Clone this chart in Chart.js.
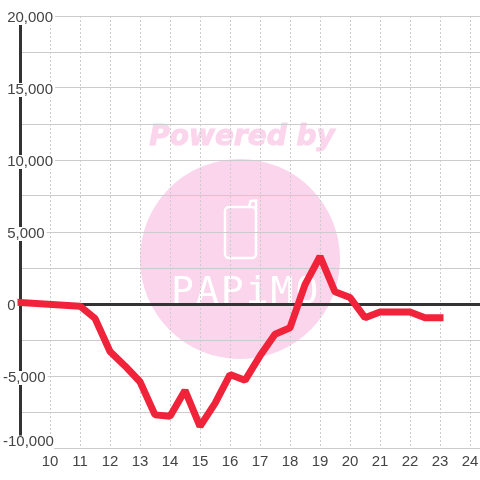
<!DOCTYPE html>
<html>
<head>
<meta charset="utf-8">
<script src="https://cdn.jsdelivr.net/npm/chart.js@4"></script>
<style>
  html, body { margin: 0; padding: 0; background: #fff; }
  #wrap { width: 480px; height: 480px; }
</style>
</head>
<body>
<div id="wrap"><canvas id="chart"></canvas></div>
<script>
const hours = [9, 11, 11.5, 12, 12.5, 13, 13.5, 14, 14.5, 15, 15.5, 16, 16.5, 17, 17.5, 18, 18.5, 19, 19.5, 20, 20.5, 21, 21.5, 22, 22.5, 23];
const balance = [100, -150, -1000, -3300, -4300, -5400, -7700, -7800, -6000, -8500, -6900, -4900, -5300, -3600, -2100, -1650, 1350, 3300, 850, 450, -950, -550, -550, -550, -950, -950];

const yMin = -10000;
const yMax = 20000;
const xMin = 9;
const xMax = 24.333;
const labelFont = { family: '"Liberation Sans"', size: 15, lineHeight: 1 };

// pink logo sits behind the grid
const watermark = {
  id: 'watermark',
  beforeDraw(chart) {
    const ctx = chart.ctx;
    ctx.save();
    ctx.fillStyle = '#fbd5ec';
    ctx.strokeStyle = '#fbd5ec';
    ctx.beginPath();
    ctx.arc(240, 259, 100, 0, Math.PI * 2);
    ctx.fill();

    ctx.font = 'italic bold 28px "DejaVu Sans"';
    ctx.textAlign = 'center';
    ctx.textBaseline = 'alphabetic';
    ctx.lineWidth = 1;
    ctx.fillText('Powered by', 242, 145);
    ctx.strokeText('Powered by', 242, 145);

    ctx.strokeStyle = '#fff';
    ctx.lineWidth = 2.5;
    ctx.beginPath();
    ctx.roundRect(225, 207, 31, 51, 4);
    ctx.moveTo(249, 207);
    ctx.lineTo(250.5, 201);
    ctx.lineTo(256, 200.5);
    ctx.lineTo(256, 212);
    ctx.stroke();

    ctx.fillStyle = '#fff';
    ctx.font = '38px "DejaVu Sans Mono"';
    ctx.textAlign = 'left';
    ctx.letterSpacing = '2px';
    ctx.fillText('PAPiMO', 171, 303);
    ctx.restore();
  }
};

// the bottom y label sits above its gridline, ticks can't do that one by one
const bottomLabel = {
  id: 'bottomLabel',
  afterDraw(chart) {
    const ctx = chart.ctx;
    const y = chart.scales.y.getPixelForValue(yMin) - 6.5;
    ctx.save();
    ctx.fillStyle = '#fff';
    ctx.fillRect(2, y - 6, 52, 14);
    ctx.fillStyle = '#444';
    ctx.font = '15px "Liberation Sans"';
    ctx.textAlign = 'left';
    ctx.textBaseline = 'middle';
    ctx.fillText(yMin.toLocaleString('en-US'), 3, y);
    ctx.restore();
  }
};

new Chart(document.getElementById('chart'), {
  type: 'line',
  data: {
    datasets: [{
      data: hours.map((h, i) => ({ x: h, y: balance[i] })),
      borderColor: '#f0233a',
      borderWidth: 7,
      borderCapStyle: 'square',
      borderJoinStyle: 'bevel',
      pointRadius: 0,
      tension: 0,
      clip: false
    }]
  },
  plugins: [watermark, bottomLabel],
  options: {
    responsive: true,
    maintainAspectRatio: false,
    animation: false,
    layout: { padding: { left: 0, top: 16, right: 0, bottom: 0 } },
    plugins: { legend: { display: false }, tooltip: { enabled: false } },
    scales: {
      x: {
        type: 'linear',
        min: xMin,
        max: xMax,
        afterFit: s => {
          s.height = 32;
          s.paddingLeft = 0;
          s.paddingRight = 0;
        },
        border: { display: false, dash: [2, 2] },
        grid: { color: '#ccc', lineWidth: 1, drawTicks: false },
        ticks: {
          stepSize: 1,
          includeBounds: false,
          autoSkip: false,
          maxRotation: 0,
          padding: 6,
          color: '#444',
          font: labelFont,
          callback: v => (v === xMin ? '' : String(v))
        }
      },
      y: {
        min: yMin,
        max: yMax,
        afterFit: s => { s.width = 20; },
        border: { display: true, color: '#333', width: 3 },
        grid: {
          drawTicks: false,
          color: c => (c.tick.value === 0 ? '#333' : '#ccc'),
          lineWidth: c => (c.tick.value === 0 ? 3 : 1)
        },
        ticks: {
          stepSize: 2500,
          z: 1,
          mirror: true,
          padding: -17,
          labelOffset: 1.5,
          color: '#444',
          font: labelFont,
          showLabelBackdrop: true,
          backdropColor: '#fff',
          backdropPadding: { top: -1, bottom: 0, left: 1, right: 2 },
          // negatives hang out to the left by the minus sign
          callback: v => {
            if (v % 5000 !== 0 || v === yMin) return '';
            const s = v.toLocaleString('en-US');
            return v < 0 ? s : ' ' + s;
          }
        }
      }
    }
  }
});
</script>
</body>
</html>
